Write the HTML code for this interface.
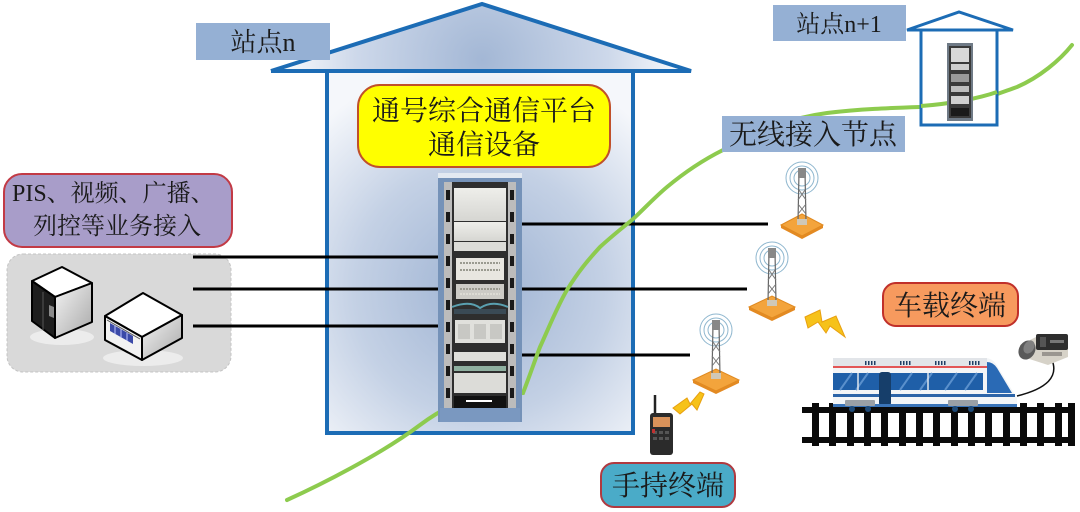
<!DOCTYPE html>
<html><head><meta charset="utf-8">
<style>
html,body{margin:0;padding:0;background:#fff;}
svg{display:block;}
.cj{font-family:"Liberation Serif","Noto Serif CJK SC",serif;fill:#1a1a1a;}
</style></head>
<body>
<svg width="1080" height="512" viewBox="0 0 1080 512" xmlns="http://www.w3.org/2000/svg">
<defs>
  <radialGradient id="wallG" cx="480" cy="290" r="230" gradientUnits="userSpaceOnUse">
    <stop offset="0" stop-color="#9db2d2"/>
    <stop offset="0.55" stop-color="#c4d1e5"/>
    <stop offset="1" stop-color="#f5f7fb"/>
  </radialGradient>
  <radialGradient id="roofG" cx="482" cy="60" r="210" gradientUnits="userSpaceOnUse">
    <stop offset="0" stop-color="#a3b7d5"/>
    <stop offset="0.6" stop-color="#cdd8ea"/>
    <stop offset="1" stop-color="#ffffff"/>
  </radialGradient>
  <linearGradient id="cubeR" x1="0" y1="0" x2="1" y2="1">
    <stop offset="0" stop-color="#f4f4f4"/><stop offset="1" stop-color="#a8a8a8"/>
  </linearGradient>
  <linearGradient id="panel" x1="0" y1="0" x2="0" y2="1">
    <stop offset="0" stop-color="#eeeeea"/><stop offset="1" stop-color="#d6d6d2"/>
  </linearGradient>
</defs>

<!-- main house -->
<polygon points="271,71 482,4 691,71" fill="url(#roofG)"/>
<rect x="327" y="71" width="306" height="362" fill="url(#wallG)"/>
<polyline points="271,71 482,4 691,71 271,71" fill="none" stroke="#1c6cb5" stroke-width="4" stroke-linejoin="miter"/>
<rect x="327" y="71" width="306" height="362" fill="none" stroke="#1c6cb5" stroke-width="4"/>

<!-- labels 站点n -->
<rect x="196" y="23" width="134" height="37" fill="#95b0d4"/>
<text x="263" y="51" text-anchor="middle" class="cj" font-size="26">站点n</text>

<!-- yellow box -->
<rect x="358" y="85" width="252" height="82" rx="22" fill="#ffff00" stroke="#c0502a" stroke-width="2"/>
<text x="484" y="120" text-anchor="middle" class="cj" font-size="28">通号综合通信平台</text>
<text x="484" y="154" text-anchor="middle" class="cj" font-size="28">通信设备</text>

<!-- PIS box -->
<rect x="4" y="174" width="228" height="73" rx="18" fill="#a89dc9" stroke="#c23a45" stroke-width="2"/>
<text x="12" y="201" class="cj" font-size="24">PIS、视频、广播、</text>
<text x="33" y="234" class="cj" font-size="24">列控等业务接入</text>

<!-- grey box -->
<rect x="7" y="254" width="224" height="118" rx="16" fill="#d9d9d9" stroke="#c4c4c4" stroke-width="1" stroke-dasharray="3,2"/>

<!-- tower server cube -->
<ellipse cx="62" cy="337" rx="32" ry="8" fill="#ececec"/>
<polygon points="62,267 92,283 55,297 32,281" fill="#ffffff" stroke="#000" stroke-width="2" stroke-linejoin="round"/>
<polygon points="32,281 55,297 55,338 32,321" fill="#1e1e1e" stroke="#000" stroke-width="2" stroke-linejoin="round"/>
<polygon points="55,297 92,283 92,322 55,338" fill="url(#cubeR)" stroke="#000" stroke-width="2" stroke-linejoin="round"/>
<polygon points="49,305 54,307 54,318 49,316" fill="#8a8a8a"/>
<line x1="43" y1="292" x2="43" y2="330" stroke="#555" stroke-width="1"/>
<!-- flat server -->
<ellipse cx="143" cy="358" rx="40" ry="8" fill="#ececec"/>
<polygon points="143,293 182,315 142,337 105,316" fill="#ffffff" stroke="#000" stroke-width="2" stroke-linejoin="round"/>
<polygon points="105,316 142,337 142,360 105,340" fill="#f2f2f2" stroke="#000" stroke-width="2" stroke-linejoin="round"/>
<polygon points="142,337 182,315 182,338 142,360" fill="url(#cubeR)" stroke="#000" stroke-width="2" stroke-linejoin="round"/>
<polygon points="110,323 133,336 133,344 110,331" fill="#3b4aa8"/>
<line x1="115" y1="326" x2="115" y2="334" stroke="#bfc6ff" stroke-width="1"/>
<line x1="121" y1="329" x2="121" y2="338" stroke="#bfc6ff" stroke-width="1"/>
<line x1="127" y1="333" x2="127" y2="341" stroke="#bfc6ff" stroke-width="1"/>
<line x1="107" y1="320" x2="140" y2="339" stroke="#555" stroke-width="1"/>

<!-- connector lines -->
<g stroke="#000" stroke-width="3">
  <line x1="193" y1="257" x2="440" y2="257"/>
  <line x1="193" y1="289" x2="440" y2="289"/>
  <line x1="193" y1="326" x2="440" y2="326"/>
  <line x1="520" y1="224" x2="768" y2="224"/>
  <line x1="520" y1="289" x2="747" y2="289"/>
  <line x1="520" y1="355" x2="690" y2="355"/>
</g>

<!-- green curve -->
<path d="M287,500 C320,485 380,455 420,425 C440,410 460,400 480,397 L523,393 C530,375 535,360 540,347 C550,325 558,305 567,290 C578,272 588,260 600,247 C612,236 622,228 632,220 C645,208 655,197 667,187 C685,172 703,160 723,150 C760,130 790,118 827,113 C860,109 890,108 920,107 C945,106 958,105 967,103 C985,99 1000,93 1017,87 C1040,77 1060,60 1072,45" fill="none" stroke="#8dcb4e" stroke-width="4" stroke-linecap="round"/>

<!-- main rack -->
<g>
  <rect x="438" y="173" width="84" height="249" fill="#7592b8"/>
  <rect x="438" y="173" width="84" height="5" fill="#e3e9f1"/>
  <rect x="444" y="182" width="72" height="226" fill="#2e2e2e"/>
  <rect x="444" y="182" width="8" height="226" fill="#bcbcbc"/>
  <rect x="508" y="182" width="8" height="226" fill="#bcbcbc"/>
  <g fill="#1a1a1a">
    <rect x="446" y="190" width="4" height="10"/><rect x="510" y="190" width="4" height="10"/>
    <rect x="446" y="212" width="4" height="10"/><rect x="510" y="212" width="4" height="10"/>
    <rect x="446" y="234" width="4" height="10"/><rect x="510" y="234" width="4" height="10"/>
    <rect x="446" y="256" width="4" height="10"/><rect x="510" y="256" width="4" height="10"/>
    <rect x="446" y="278" width="4" height="10"/><rect x="510" y="278" width="4" height="10"/>
    <rect x="446" y="300" width="4" height="10"/><rect x="510" y="300" width="4" height="10"/>
    <rect x="446" y="322" width="4" height="10"/><rect x="510" y="322" width="4" height="10"/>
    <rect x="446" y="344" width="4" height="10"/><rect x="510" y="344" width="4" height="10"/>
    <rect x="446" y="366" width="4" height="10"/><rect x="510" y="366" width="4" height="10"/>
    <rect x="446" y="388" width="4" height="10"/><rect x="510" y="388" width="4" height="10"/>
  </g>
  <rect x="454" y="188" width="52" height="33" fill="url(#panel)"/>
  <rect x="454" y="222" width="52" height="19" fill="url(#panel)"/>
  <rect x="454" y="242" width="52" height="9" fill="#dcdcd8"/>
  <rect x="456" y="258" width="48" height="22" fill="#e8e6e0"/>
  <g stroke="#9a9a90" stroke-width="2" stroke-dasharray="2,1">
    <line x1="460" y1="263" x2="500" y2="263"/><line x1="460" y1="270" x2="500" y2="270"/>
    <line x1="460" y1="289" x2="500" y2="289"/><line x1="460" y1="294" x2="500" y2="294"/>
  </g>
  <rect x="456" y="284" width="48" height="15" fill="#e8e6e0" opacity="0.85"/>
  <line x1="460" y1="289" x2="500" y2="289" stroke="#9a9a90" stroke-width="2" stroke-dasharray="2,1"/>
  <path d="M452,307 Q470,300 480,308 Q492,300 508,307" fill="none" stroke="#5aa0b0" stroke-width="2"/>
  <rect x="454" y="309" width="52" height="5" fill="#3a4a55"/>
  <rect x="455" y="320" width="50" height="23" fill="#e0e0dc"/>
  <rect x="458" y="324" width="12" height="15" fill="#c8c8c4"/><rect x="474" y="324" width="12" height="15" fill="#c8c8c4"/><rect x="490" y="324" width="12" height="15" fill="#c8c8c4"/>
  <rect x="454" y="352" width="52" height="9" fill="#e0e0dc"/>
  <rect x="454" y="366" width="52" height="5" fill="#8fb0a0"/>
  <rect x="454" y="373" width="52" height="20" fill="#dcdcd8"/>
  <rect x="454" y="396" width="52" height="12" fill="#111"/>
  <rect x="466" y="400" width="26" height="2" fill="#fff"/>
  <rect x="440" y="408" width="80" height="14" fill="#7a98c0"/>
</g>

<!-- station n+1 -->
<polygon points="907,30 959,12 1013,30" fill="#fff" stroke="#1c6cb5" stroke-width="3" stroke-linejoin="miter"/>
<rect x="921" y="30" width="76" height="95" fill="#ffffff" stroke="#1c6cb5" stroke-width="3"/>
<path d="M921,106 C950,104 980,98 997,92" fill="none" stroke="#8dcb4e" stroke-width="4"/>
<g>
  <rect x="947" y="43" width="26" height="78" fill="#6f7a86"/>
  <rect x="949" y="46" width="22" height="72" fill="#3a3a3a"/>
  <rect x="951" y="48" width="18" height="14" fill="#d8d8d8"/>
  <rect x="951" y="64" width="18" height="6" fill="#cfcfcf"/>
  <rect x="951" y="74" width="18" height="8" fill="#9a9a9a"/>
  <rect x="951" y="86" width="18" height="6" fill="#bdbdbd"/>
  <rect x="951" y="96" width="18" height="8" fill="#d0d0d0"/>
  <rect x="951" y="108" width="18" height="8" fill="#1a1a1a"/>
</g>
<rect x="773" y="5" width="133" height="36" fill="#95b0d4"/>
<text x="839" y="32" text-anchor="middle" class="cj" font-size="24">站点n+1</text>

<!-- wireless label -->
<rect x="722" y="116" width="183" height="36" fill="#95b0d4"/>
<text x="813" y="144" text-anchor="middle" class="cj" font-size="28">无线接入节点</text>

<!-- towers -->
<g id="t1">
  <polygon points="781,225 802,214 823,225 802,236" fill="#f3a43c" stroke="#e08a20" stroke-width="1"/>
  <polygon points="781,225 802,236 823,225 823,228 802,239 781,228" fill="#e38a22"/>
  <g fill="none" stroke="#8fb7cf" stroke-width="1">
    <circle cx="802" cy="178" r="16"/><circle cx="802" cy="178" r="12"/><circle cx="802" cy="178" r="8"/>
  </g>
  <path d="M799,172 L805,172 L806,222 L798,222 Z" fill="none" stroke="#666" stroke-width="1.2"/>
  <path d="M799,190 L806,200 M805,190 L798,200 M798,204 L806,214 M806,204 L798,214" stroke="#777" stroke-width="1"/>
  <rect x="798" y="168" width="8" height="10" fill="#888"/>
  <rect x="797" y="219" width="10" height="6" fill="#cfc8b8"/>
</g>
<g>
  <polygon points="749,307 772,296 795,307 772,318" fill="#f3a43c" stroke="#e08a20" stroke-width="1"/>
  <polygon points="749,307 772,318 795,307 795,310 772,321 749,310" fill="#e38a22"/>
  <g fill="none" stroke="#8fb7cf" stroke-width="1">
    <circle cx="772" cy="258" r="16"/><circle cx="772" cy="258" r="12"/><circle cx="772" cy="258" r="8"/>
  </g>
  <path d="M769,252 L775,252 L776,303 L768,303 Z" fill="none" stroke="#666" stroke-width="1.2"/>
  <path d="M769,270 L776,280 M775,270 L768,280 M768,284 L776,294 M776,284 L768,294" stroke="#777" stroke-width="1"/>
  <rect x="768" y="248" width="8" height="10" fill="#888"/>
  <rect x="767" y="300" width="10" height="6" fill="#cfc8b8"/>
</g>
<g>
  <polygon points="693,380 716,369 739,380 716,391" fill="#f3a43c" stroke="#e08a20" stroke-width="1"/>
  <polygon points="693,380 716,391 739,380 739,383 716,394 693,383" fill="#e38a22"/>
  <g fill="none" stroke="#8fb7cf" stroke-width="1">
    <circle cx="716" cy="330" r="16"/><circle cx="716" cy="330" r="12"/><circle cx="716" cy="330" r="8"/>
  </g>
  <path d="M713,324 L719,324 L720,376 L712,376 Z" fill="none" stroke="#666" stroke-width="1.2"/>
  <path d="M713,342 L720,352 M719,342 L712,352 M712,356 L720,366 M720,356 L712,366" stroke="#777" stroke-width="1"/>
  <rect x="712" y="320" width="8" height="10" fill="#888"/>
  <rect x="711" y="373" width="10" height="6" fill="#cfc8b8"/>
</g>

<!-- lightning bolts -->
<polygon points="805,317 820,310 822,322 836,316 845,337 830,326 826,333 818,322 808,328" fill="#f6c21a" stroke="#e8a010" stroke-width="1"/>
<polygon points="673,408 687,398 690,404 700,392 704,394 697,410 692,404 680,414" fill="#f6c21a" stroke="#e8a010" stroke-width="1"/>

<!-- handheld -->
<line x1="655" y1="395" x2="655" y2="416" stroke="#222" stroke-width="2.5"/>
<rect x="650" y="413" width="23" height="42" rx="3" fill="#2b2b2b"/>
<rect x="653" y="417" width="17" height="10" fill="#d9925a"/>
<g fill="#555"><rect x="653" y="431" width="4" height="3"/><rect x="659" y="431" width="4" height="3"/><rect x="665" y="431" width="4" height="3"/>
<rect x="653" y="437" width="4" height="3"/><rect x="659" y="437" width="4" height="3"/><rect x="665" y="437" width="4" height="3"/></g>
<rect x="652" y="429" width="3" height="4" fill="#c03030"/>

<!-- handheld label -->
<rect x="601" y="463" width="134" height="44" rx="13" fill="#4aabc8" stroke="#b03a40" stroke-width="2"/>
<text x="668" y="495" text-anchor="middle" class="cj" font-size="28">手持终端</text>

<!-- vehicle label -->
<rect x="883" y="283" width="135" height="43" rx="13" fill="#f79a5e" stroke="#c0302a" stroke-width="2"/>
<text x="950" y="315" text-anchor="middle" class="cj" font-size="28">车载终端</text>

<!-- tracks -->
<g fill="#0a0a0a">
  <rect x="802" y="407" width="273" height="6"/>
  <rect x="802" y="437" width="273" height="6"/>
  <rect x="812" y="403" width="7" height="43"/>
  <rect x="829" y="403" width="7" height="43"/>
  <rect x="847" y="403" width="7" height="43"/>
  <rect x="864" y="403" width="7" height="43"/>
  <rect x="881" y="403" width="7" height="43"/>
  <rect x="899" y="403" width="7" height="43"/>
  <rect x="916" y="403" width="7" height="43"/>
  <rect x="933" y="403" width="7" height="43"/>
  <rect x="951" y="403" width="7" height="43"/>
  <rect x="968" y="403" width="7" height="43"/>
  <rect x="985" y="403" width="7" height="43"/>
  <rect x="1003" y="403" width="7" height="43"/>
  <rect x="1020" y="403" width="7" height="43"/>
  <rect x="1037" y="403" width="7" height="43"/>
  <rect x="1055" y="403" width="7" height="43"/>
  <rect x="1068" y="403" width="7" height="43"/>
</g>

<!-- train -->
<g>
  <path d="M833,358 L985,358 Q992,358 996,364 L1017,398 L1017,407 L833,407 Z" fill="#f3f5f7"/>
  <rect x="833" y="358" width="154" height="8" fill="#e2e5e9"/>
  <rect x="833" y="366" width="157" height="2" fill="#e35656"/>
  <g fill="#1f3f66">
    <rect x="865" y="361" width="1.5" height="4"/><rect x="868" y="361" width="1.5" height="4"/><rect x="871" y="361" width="1.5" height="4"/><rect x="874" y="361" width="1.5" height="4"/>
    <rect x="900" y="361" width="1.5" height="4"/><rect x="903" y="361" width="1.5" height="4"/><rect x="906" y="361" width="1.5" height="4"/><rect x="909" y="361" width="1.5" height="4"/>
    <rect x="935" y="361" width="1.5" height="4"/><rect x="938" y="361" width="1.5" height="4"/><rect x="941" y="361" width="1.5" height="4"/><rect x="944" y="361" width="1.5" height="4"/>
    <rect x="969" y="361" width="1.5" height="4"/><rect x="972" y="361" width="1.5" height="4"/><rect x="975" y="361" width="1.5" height="4"/><rect x="978" y="361" width="1.5" height="4"/>
  </g>
  <rect x="833" y="373" width="150" height="17" fill="#1f5fa8"/>
  <g stroke="#5a90cc" stroke-width="2">
    <line x1="840" y1="390" x2="852" y2="373"/><line x1="856" y1="390" x2="868" y2="373"/>
    <line x1="900" y1="390" x2="912" y2="373"/><line x1="920" y1="390" x2="932" y2="373"/><line x1="945" y1="390" x2="957" y2="373"/><line x1="965" y1="390" x2="977" y2="373"/>
  </g>
  <line x1="858" y1="373" x2="858" y2="390" stroke="#dfe6ee" stroke-width="1.5"/>
  <line x1="928" y1="373" x2="928" y2="390" stroke="#dfe6ee" stroke-width="1.5"/>
  <path d="M987,362 Q993,362 997,368 L1012,393 L987,393 Z" fill="#2a6ab5"/>
  <rect x="833" y="394" width="182" height="3" fill="#2c64a8"/>
  <rect x="879" y="372" width="12" height="34" rx="3" fill="#163e6a"/>
  <rect x="833" y="404" width="184" height="3" fill="#3a74b8"/>
  <rect x="845" y="400" width="30" height="6" rx="1" fill="#9aa0a6"/>
  <rect x="948" y="400" width="30" height="6" rx="1" fill="#9aa0a6"/>
  <circle cx="852" cy="409" r="3" fill="#1e4a78"/><circle cx="868" cy="409" r="3" fill="#1e4a78"/>
  <circle cx="955" cy="409" r="3" fill="#1e4a78"/><circle cx="971" cy="409" r="3" fill="#1e4a78"/>
</g>

<!-- onboard terminal device -->
<path d="M1052,360 Q1062,385 1017,396" fill="none" stroke="#111" stroke-width="1.5"/>
<g>
  <polygon points="1020,345 1040,335 1068,345 1068,357 1048,365 1020,356" fill="#d6d2c8"/>
  <rect x="1036" y="334" width="32" height="16" rx="2" fill="#2e2e2e"/>
  <rect x="1040" y="337" width="6" height="10" fill="#555"/>
  <rect x="1050" y="340" width="14" height="3" fill="#777"/>
  <ellipse cx="1027" cy="350" rx="8" ry="10" fill="#5a5a5a" transform="rotate(30 1027 350)"/>
  <ellipse cx="1029" cy="347" rx="5" ry="7" fill="#808080" transform="rotate(30 1029 347)"/>
  <rect x="1042" y="352" width="20" height="4" fill="#9a9690"/>
</g>
</svg>
</body></html>
